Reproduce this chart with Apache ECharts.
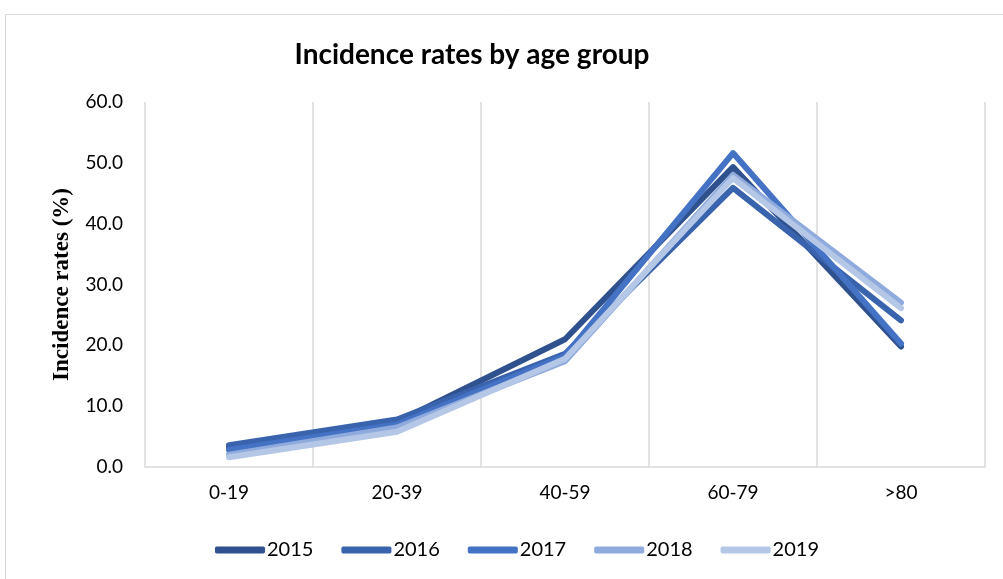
<!DOCTYPE html>
<html>
<head>
<meta charset="utf-8">
<script src="https://cdn.jsdelivr.net/npm/echarts@6/dist/echarts.min.js"></script>
<style>
  html, body { margin: 0; padding: 0; background: #fff; }
  #main { width: 1003px; height: 579px; }
</style>
</head>
<body>
<div id="main"></div>
<script>
    // age groups on the x axis
    var ageGroups = ['0-19', '20-39', '40-59', '60-79', '>80'];
    var years = ['2015', '2016', '2017', '2018', '2019'];

    // incidence rates (%) per year, one value per age group
    var rates2015 = [3.3, 7.4, 21.0, 49.3, 19.8];
    var rates2016 = [3.6, 7.8, 18.6, 45.9, 24.1];
    var rates2017 = [2.8, 7.0, 18.3, 51.6, 20.3];
    var rates2018 = [2.0, 6.5, 17.4, 48.0, 27.0];
    var rates2019 = [1.6, 5.8, 17.8, 47.5, 26.1];

    var yearColors = ['#2f528f', '#3a63ae', '#4472c4', '#8faadc', '#b4c7e7'];
    var allRates = [rates2015, rates2016, rates2017, rates2018, rates2019];

    var chart = echarts.init(document.getElementById('main'));

    var series = [];
    for (var i = 0; i < years.length; i++) {
        series.push({
            name: years[i],
            type: 'line',
            symbol: 'none',
            data: allRates[i],
            color: yearColors[i],
            lineStyle: {
                width: 6,
                cap: 'round',
                join: 'round'
            }
        });
    }

    chart.setOption({
        animation: false,
        title: {
            text: 'Incidence rates by age group',
            left: 467,
            top: 36,
            textAlign: 'center',
            textStyle: {
                fontFamily: 'Lato',
                fontWeight: 'bold',
                fontSize: 28,
                color: '#000'
            }
        },
        graphic: [{
            type: 'rect',
            shape: { x: 5.5, y: 14.5, width: 1020, height: 620 },
            style: { fill: 'none', stroke: '#d9d9d9', lineWidth: 1 },
            silent: true
        }],
        legend: {
            data: years,
            icon: 'roundRect',
            bottom: 14,
            left: 210,
            itemWidth: 50,
            itemHeight: 7,
            itemGap: 28,
            textStyle: {
                fontFamily: 'Lato',
                fontSize: 20,
                color: '#000',
                padding: [0, 0, 0, -3]
            }
        },
        grid: {
            left: 145,
            right: 18,
            top: 102,
            bottom: 112,
            containLabel: false
        },
        xAxis: {
            type: 'category',
            data: ageGroups,
            boundaryGap: true,
            axisLine: { lineStyle: { color: '#d9d9d9', width: 1.5 } },
            axisTick: { show: false },
            axisLabel: {
                fontFamily: 'Lato',
                fontSize: 19,
                color: '#000',
                margin: 16
            },
            splitLine: {
                show: true,
                lineStyle: { color: '#d9d9d9', width: 1.5 }
            }
        },
        yAxis: {
            type: 'value',
            min: 0,
            max: 60,
            interval: 10,
            name: 'Incidence rates (%)',
            nameLocation: 'middle',
            nameGap: 71,
            nameTextStyle: {
                fontFamily: 'Liberation Serif',
                fontWeight: 'bold',
                fontSize: 23,
                color: '#000'
            },
            axisLine: { show: false },
            axisTick: { show: false },
            splitLine: { show: false },
            axisLabel: {
                fontFamily: 'Lato',
                fontSize: 19,
                color: '#000',
                margin: 22,
                formatter: function (v) { return v.toFixed(1); }
            }
        },
        series: series
    });
</script>
</body>
</html>
